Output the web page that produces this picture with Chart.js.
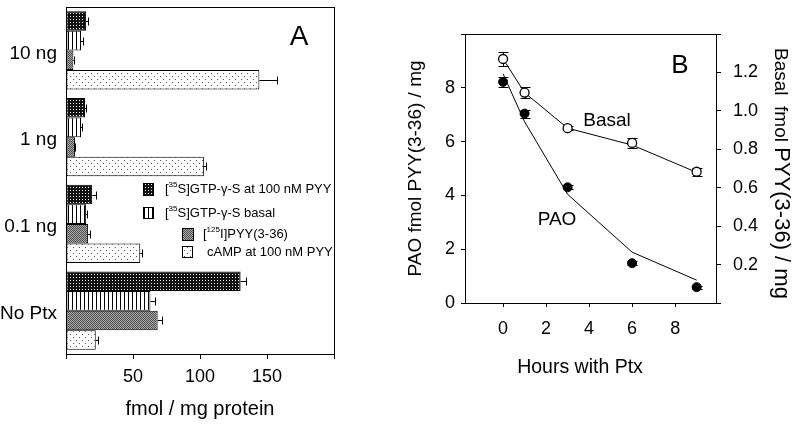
<!DOCTYPE html>
<html lang="en">
<head>
<meta charset="utf-8"/>
<title>Ptx - panels A and B</title>
<script src="https://cdn.jsdelivr.net/npm/chart.js"></script>
<style>
  body { margin: 0; background: #fff; }
  #wrap { display: flex; width: 800px; height: 426px; }
  canvas { display: block; }
</style>
</head>
<body>
<div id="wrap">
  <canvas id="chartA" width="400" height="426"></canvas>
  <canvas id="chartB" width="400" height="426"></canvas>
</div>
<script>
// ---- panel A data (fmol / mg protein)
const doses = ['10 ng', '1 ng', '0.1 ng', 'No Ptx'];
const gtpPyy = [15.0, 14.2, 19.5, 130.3];
const gtpPyyErr = [1.5, 1.0, 3.0, 3.7];
const gtpBasal = [11.2, 11.2, 15.0, 63.0];
const gtpBasalErr = [1.5, 0.5, 0.8, 3.7];
const pyyBind = [5.5, 6.7, 16.5, 68.4];
const pyyBindErr = [0.3, 0.3, 1.5, 3.0];
const camp = [144.3, 102.9, 55.4, 22.2];
const campErr = [13.4, 1.5, 1.5, 1.5];
const xTicksA = [0, 50, 100, 150, 200];

// ---- panel B data
const hours = [0, 1, 3, 6, 9];
const paoMean = [8.22, 7.04, 4.30, 1.48, 0.59];
const paoErr = [0.18, 0.15, 0.08, 0.08, 0.06];
const paoFit = [8.52, 6.74, 4.04, 1.89, 0.85];
const basalMean = [1.27, 1.095, 0.91, 0.833, 0.683];
const basalErr = [0.035, 0.03, 0.01, 0.025, 0.02];
const basalFit = [1.27, 1.095, 0.91, 0.822, 0.68];
const xTicksB = [0, 2, 4, 6, 8];
const yTicksB = [0, 2, 4, 6, 8, 10];
const y2TicksB = [0, 0.2, 0.4, 0.6, 0.8, 1.0, 1.2, 1.4];

const FONT = "'Liberation Sans', Arial, sans-serif";
Chart.defaults.font.family = FONT;
Chart.defaults.color = '#000';

function pattern(w, h, bg, fg, dots) {
  const c = document.createElement('canvas');
  c.width = w; c.height = h;
  const g = c.getContext('2d');
  g.fillStyle = bg; g.fillRect(0, 0, w, h);
  g.fillStyle = fg;
  dots.forEach(d => g.fillRect(d[0], d[1], d[2] || 1, d[3] || 1));
  return g.createPattern(c, 'repeat');
}
const patDark = pattern(3, 3, '#111', '#fff', [[1, 1]]);
const patLines = pattern(4, 4, '#fff', '#000', [[0, 0, 1, 4]]);
const patGray = pattern(2, 2, '#a8a8a8', '#505050', [[0, 0], [1, 1]]);
const patDots = pattern(6, 6, '#fff', '#555', [[1, 1], [4, 4]]);

// draw text where unicode superscript digits are drawn small and raised
const SUP = {'⁰':'0','¹':'1','²':'2','³':'3','⁴':'4','⁵':'5','⁶':'6','⁷':'7','⁸':'8','⁹':'9'};
function drawRich(ctx, text, x, y, size) {
  let runs = [];
  for (const ch of text) {
    const s = ch in SUP;
    if (runs.length && runs[runs.length - 1].sup === s) runs[runs.length - 1].t += s ? SUP[ch] : ch;
    else runs.push({sup: s, t: s ? SUP[ch] : ch});
  }
  ctx.textBaseline = 'middle';
  ctx.textAlign = 'left';
  runs.forEach(r => {
    ctx.font = (r.sup ? size * 0.62 : size) + 'px ' + FONT;
    ctx.fillText(r.t, x, r.sup ? y - size * 0.3 : y);
    x += ctx.measureText(r.t).width;
  });
}

const frame = {
  id: 'frame',
  afterDraw(chart) {
    const {ctx, chartArea: a} = chart;
    ctx.save();
    ctx.strokeStyle = '#000';
    ctx.lineWidth = 1;
    ctx.strokeRect(Math.round(a.left) + 0.5, Math.round(a.top) + 0.5,
      Math.round(a.right - a.left), Math.round(a.bottom - a.top));
    ctx.restore();
  }
};

const barErrors = {
  id: 'barErrors',
  afterDatasetsDraw(chart) {
    const ctx = chart.ctx, xs = chart.scales.x;
    ctx.save();
    ctx.strokeStyle = '#000';
    ctx.lineWidth = 1;
    chart.data.datasets.forEach((ds, i) => {
      chart.getDatasetMeta(i).data.forEach((bar, j) => {
        const x1 = Math.round(xs.getPixelForValue(ds.data[j] + ds.err[j])) + 0.5;
        const y = Math.round(bar.y) + 0.5;
        ctx.beginPath();
        ctx.moveTo(bar.x, y); ctx.lineTo(x1, y);
        ctx.moveTo(x1, y - 4); ctx.lineTo(x1, y + 4);
        ctx.stroke();
      });
    });
    ctx.restore();
  }
};

const legendA = {
  id: 'legendA',
  afterDraw(chart) {
    const ctx = chart.ctx;
    const ds = chart.data.datasets;
    const spots = [
      {box: [143, 183, 10, 12], tx: 165, ty: 189},
      {box: [143, 207, 10, 11], tx: 165, ty: 213},
      {box: [182, 228, 11, 12], tx: 203, ty: 234},
      {box: [182, 246, 10, 11], tx: 207, ty: 252}
    ];
    ctx.save();
    spots.forEach((s, i) => {
      ctx.fillStyle = ds[i].backgroundColor;
      ctx.fillRect(s.box[0], s.box[1], s.box[2], s.box[3]);
      ctx.strokeStyle = '#000';
      ctx.lineWidth = 1;
      ctx.strokeRect(s.box[0] + 0.5, s.box[1] + 0.5, s.box[2], s.box[3]);
      ctx.fillStyle = '#000';
      drawRich(ctx, ds[i].label, s.tx, s.ty, 13);
    });
    ctx.font = '28px ' + FONT;
    ctx.textAlign = 'center';
    ctx.textBaseline = 'middle';
    ctx.fillText('A', 299, 37);
    ctx.restore();
  }
};

const noScalePad = s => { s.paddingTop = 0; s.paddingBottom = 0; s.paddingLeft = 0; s.paddingRight = 0; };

new Chart(document.getElementById('chartA'), {
  type: 'bar',
  data: {
    labels: doses,
    datasets: [
      {label: '[³⁵S]GTP-γ-S at 100 nM PYY', data: gtpPyy, err: gtpPyyErr, backgroundColor: patDark},
      {label: '[³⁵S]GTP-γ-S basal', data: gtpBasal, err: gtpBasalErr, backgroundColor: patLines},
      {label: '[¹²⁵I]PYY(3-36)', data: pyyBind, err: pyyBindErr, backgroundColor: patGray},
      {label: 'cAMP at 100 nM PYY', data: camp, err: campErr, backgroundColor: patDots}
    ].map(d => Object.assign(d, {borderColor: '#000', borderWidth: 1, borderSkipped: false,
      categoryPercentage: 0.9, barPercentage: 1.0}))
  },
  options: {
    indexAxis: 'y',
    responsive: false,
    animation: false,
    layout: {padding: {top: 7, right: 66, left: 0, bottom: 0}},
    plugins: {legend: {display: false}, tooltip: {enabled: false}},
    scales: {
      x: {
        min: 0, max: 200,
        afterBuildTicks: s => { s.ticks = xTicksA.map(v => ({value: v})); },
        afterFit: s => { s.height = 72; noScalePad(s); },
        grid: {drawOnChartArea: false, tickLength: 5, color: '#000'},
        border: {color: '#000'},
        ticks: {padding: 7, font: {size: 18}, callback: v => (v === 0 || v === 200) ? '' : v},
        title: {display: true, text: 'fmol / mg protein', font: {size: 20}, padding: {bottom: 5}}
      },
      y: {
        afterFit: s => { s.width = 66; noScalePad(s); },
        grid: {display: false, drawTicks: false},
        border: {color: '#000'},
        ticks: {padding: 9, labelOffset: 3, font: {size: 19}}
      }
    }
  },
  plugins: [barErrors, frame, legendA]
});

const pointErrors = {
  id: 'pointErrors',
  beforeDatasetsDraw(chart) {
    const ctx = chart.ctx, xs = chart.scales.x;
    ctx.save();
    ctx.strokeStyle = '#000';
    ctx.lineWidth = 1;
    chart.data.datasets.forEach(ds => {
      if (!ds.err) return;
      const ys = chart.scales[ds.yAxisID];
      ds.data.forEach((p, j) => {
        const x = Math.round(xs.getPixelForValue(p.x)) + 0.5;
        const y0 = Math.round(ys.getPixelForValue(p.y - ds.err[j])) + 0.5;
        const y1 = Math.round(ys.getPixelForValue(p.y + ds.err[j])) + 0.5;
        ctx.beginPath();
        ctx.moveTo(x, y0); ctx.lineTo(x, y1);
        ctx.moveTo(x - 5, y0); ctx.lineTo(x + 5, y0);
        ctx.moveTo(x - 5, y1); ctx.lineTo(x + 5, y1);
        ctx.stroke();
      });
    });
    ctx.restore();
  }
};

const labelsB = {
  id: 'labelsB',
  afterDraw(chart) {
    const ctx = chart.ctx;
    ctx.save();
    ctx.fillStyle = '#000';
    ctx.textAlign = 'center';
    ctx.textBaseline = 'middle';
    ctx.font = '26px ' + FONT;
    ctx.fillText('B', 280, 66);
    ctx.font = '19px ' + FONT;
    ctx.fillText('Basal', 207, 121);
    ctx.fillText('PAO', 157, 220);
    ctx.font = '19.5px ' + FONT;
    ctx.fillText('Hours with Ptx', 180, 368);
    // right axis title, two font sizes
    ctx.translate(375, 48);
    ctx.rotate(Math.PI / 2);
    ctx.textAlign = 'left';
    ctx.textBaseline = 'alphabetic';
    ctx.font = '19px ' + FONT;
    const first = 'Basal  fmol ';
    ctx.fillText(first, 0, 0);
    const w = ctx.measureText(first).width;
    ctx.font = '22px ' + FONT;
    ctx.fillText('PYY(3-36) / mg', w, 0);
    ctx.restore();
  }
};

const pts = ys => hours.map((h, i) => ({x: h, y: ys[i]}));

new Chart(document.getElementById('chartB'), {
  type: 'line',
  data: {
    datasets: [
      {label: 'PAO', data: pts(paoMean), err: paoErr, yAxisID: 'y', showLine: false,
        pointRadius: 4.5, pointBackgroundColor: '#000', pointBorderColor: '#000'},
      {label: 'Basal', data: pts(basalMean), err: basalErr, yAxisID: 'y1', showLine: false,
        pointRadius: 4.5, pointBackgroundColor: '#fff', pointBorderColor: '#000', pointBorderWidth: 1.3},
      {label: 'PAO fit', data: pts(paoFit), yAxisID: 'y', borderColor: '#000', borderWidth: 1, pointRadius: 0},
      {label: 'Basal fit', data: pts(basalFit), yAxisID: 'y1', borderColor: '#000', borderWidth: 1, pointRadius: 0}
    ]
  },
  options: {
    responsive: false,
    animation: false,
    layout: {padding: {top: 34, right: 0, left: 0, bottom: 0}},
    plugins: {legend: {display: false}, tooltip: {enabled: false}},
    scales: {
      x: {
        type: 'linear', min: -1.77, max: 9.9,
        afterBuildTicks: s => { s.ticks = xTicksB.map(v => ({value: v})); },
        afterFit: s => { s.height = 123; noScalePad(s); },
        grid: {drawOnChartArea: false, tickLength: 4, color: '#000'},
        border: {color: '#000'},
        ticks: {padding: 11, font: {size: 18}}
      },
      y: {
        position: 'left', min: 0, max: 10,
        afterBuildTicks: s => { s.ticks = yTicksB.map(v => ({value: v})); },
        afterFit: s => { s.width = 65; noScalePad(s); },
        grid: {drawOnChartArea: false, tickLength: 4, color: '#000'},
        border: {color: '#000'},
        ticks: {padding: 6, font: {size: 18}, callback: v => v === 10 ? '' : v},
        title: {display: true, text: 'PAO fmol PYY(3-36) / mg', font: {size: 19}, padding: {top: 4}}
      },
      y1: {
        position: 'right', min: 0, max: 1.4,
        afterBuildTicks: s => { s.ticks = y2TicksB.map(v => ({value: v})); },
        afterFit: s => { s.width = 84; noScalePad(s); },
        grid: {drawOnChartArea: false, tickLength: 5, color: '#000'},
        border: {color: '#000'},
        ticks: {padding: 12, font: {size: 18}, callback: v => (v === 0 || v > 1.3) ? '' : v.toFixed(1)}
      }
    }
  },
  plugins: [pointErrors, frame, labelsB]
});
</script>
</body>
</html>
